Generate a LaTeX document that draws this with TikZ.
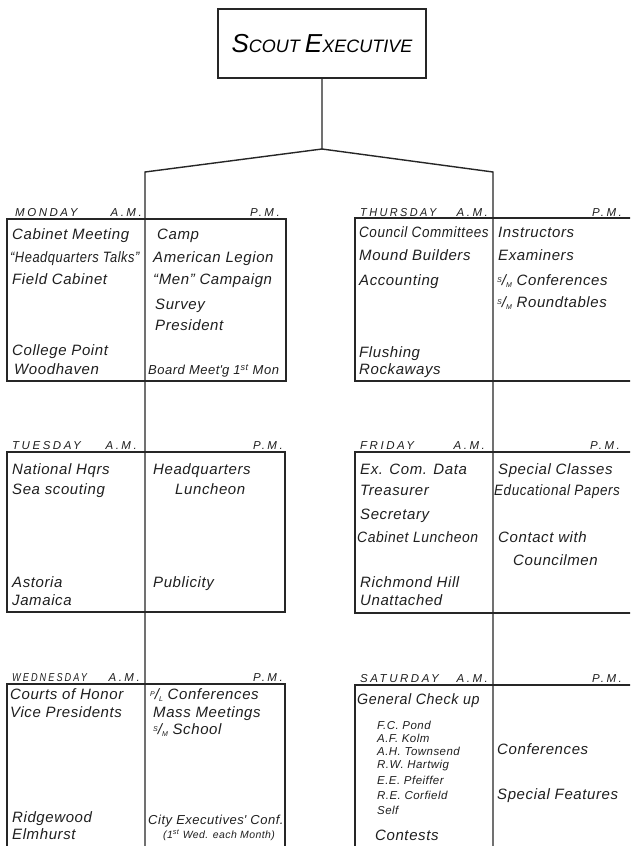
\documentclass[tikz,border=0pt]{standalone}
\usepackage{fontspec}
\setmainfont{Liberation Sans}
\newfontfamily\hand{Liberation Sans}[LetterSpace=4]
\newfontfamily\hdfont{Liberation Sans}[LetterSpace=22]
\newcommand{\slashab}[2]{\raisebox{0.35ex}{\scriptsize #1}/\raisebox{-0.2ex}{\scriptsize #2}}
\begin{document}
\begin{tikzpicture}[x=1pt,y=-1pt,
  ln/.style={line width=1.4pt, draw=black!85},
  box/.style={ln, rectangle, inner sep=0pt},
  it/.style={inner sep=0pt, anchor=mid west, text=black!88, font=\hand\itshape\fontsize{15}{18}\selectfont},
  sm/.style={it, font=\hand\itshape\fontsize{13}{15}\selectfont},
  tiny/.style={it, font=\hand\itshape\fontsize{11.5}{13}\selectfont},
  hdl/.style={inner sep=0pt, anchor=base west, text=black!88, font=\hdfont\itshape\fontsize{11.5}{13}\selectfont},
  hdr/.style={hdl, anchor=base east}
]
\useasboundingbox (0,0) rectangle (630,846);
\clip (0,0) rectangle (630,846);
\fill[white] (0,0) rectangle (630,846);

% title
\node[box, minimum width=208pt, minimum height=69pt, font=\itshape] (title) at (322,43.5)
  {{\fontsize{26}{28}\selectfont S}{\fontsize{18}{20}\selectfont COUT }{\fontsize{26}{28}\selectfont E}{\fontsize{18}{20}\selectfont XECUTIVE}};

% day boxes
\node[box, minimum width=279pt, minimum height=162pt] (mon) at (146.5,300) {};
\node[box, minimum width=278pt, minimum height=160pt] (tue) at (146,532) {};
\node[box, minimum width=278pt, minimum height=168pt] (wed) at (146,768) {};
\node[box, minimum width=285pt, minimum height=163pt] (thu) at (497.5,299.5) {};
\node[box, minimum width=285pt, minimum height=161pt] (fri) at (497.5,532.5) {};
\node[box, minimum width=285pt, minimum height=167pt] (sat) at (497.5,768.5) {};

% connectors
\coordinate (split) at (322,149);
\coordinate (lt) at (145,172);
\coordinate (rt) at (493,172);
\coordinate (lb) at (145,856);
\coordinate (rb) at (493,856);
\draw[ln] (title.south) -- (split) -- (lt) -- (lb);
\draw[ln] (split) -- (rt) -- (rb);

% headers
\node[hdl] (hmon) at (15,216) {MONDAY};
\node[hdr] (hmona) at (142,216) {A.M.};
\node[hdr] (hmonp) at (280,216) {P.M.};
\node[hdl] (hthu) at (360,216) {\scalebox{0.95}[1]{THURSDAY}};
\node[hdr] (hthua) at (488,216) {A.M.};
\node[hdr] (hthup) at (622,216) {P.M.};
\node[hdl] (htue) at (12,449) {TUESDAY};
\node[hdr] (htuea) at (137,449) {A.M.};
\node[hdr] (htuep) at (283,449) {P.M.};
\node[hdl] (hfri) at (360,449) {FRIDAY};
\node[hdr] (hfria) at (485,449) {A.M.};
\node[hdr] (hfrip) at (620,449) {P.M.};
\node[hdl] (hwed) at (12,681) {\scalebox{0.8}[1]{WEDNESDAY}};
\node[hdr] (hweda) at (140,681) {A.M.};
\node[hdr] (hwedp) at (283,681) {P.M.};
\node[hdl] (hsat) at (360,682) {SATURDAY};
\node[hdr] (hsata) at (488,682) {A.M.};
\node[hdr] (hsatp) at (622,682) {P.M.};

% Monday
\node[it] (m1) at (12,237) {Cabinet Meeting};
\node[it] (m2) at (10,260) {\scalebox{0.86}[1]{\textquotedblleft Headquarters Talks\textquotedblright}};
\node[it] (m3) at (12,282) {Field Cabinet};
\node[it] (m4) at (12,353) {College Point};
\node[it] (m5) at (14,372) {Woodhaven};
\node[it] (m6) at (157,237) {Camp};
\node[it] (m7) at (153,260) {American Legion};
\node[it] (m8) at (153,282) {\textquotedblleft Men\textquotedblright\ Campaign};
\node[it] (m9) at (155,307) {Survey};
\node[it] (m10) at (155,328) {President};
\node[sm] (m11) at (148,372) {Board Meet\textquotesingle g 1\textsuperscript{st} Mon};

% Thursday
\node[it] (t1) at (359,235) {\scalebox{0.9}[1]{Council Committees}};
\node[it] (t2) at (359,258) {Mound Builders};
\node[it] (t3) at (359,283) {Accounting};
\node[it] (t4) at (359,355) {Flushing};
\node[it] (t5) at (359,372) {Rockaways};
\node[it] (t6) at (498,235) {Instructors};
\node[it] (t7) at (498,258) {Examiners};
\node[it] (t8) at (497,283) {\slashab{S}{M} Conferences};
\node[it] (t9) at (497,305) {\slashab{S}{M} Roundtables};

% Tuesday
\node[it] (u1) at (12,472) {National Hqrs};
\node[it] (u2) at (12,492) {Sea scouting};
\node[it] (u3) at (12,585) {Astoria};
\node[it] (u4) at (12,603) {Jamaica};
\node[it] (u5) at (153,472) {Headquarters};
\node[it] (u6) at (175,492) {Luncheon};
\node[it] (u7) at (153,585) {Publicity};

% Friday
\node[it] (f1) at (360,472) {Ex. Com. Data};
\node[it] (f2) at (360,493) {Treasurer};
\node[it] (f3) at (360,517) {Secretary};
\node[it] (f4) at (357,540) {\scalebox{0.93}[1]{Cabinet Luncheon}};
\node[it] (f5) at (360,585) {Richmond Hill};
\node[it] (f6) at (360,603) {Unattached};
\node[it] (f7) at (498,472) {Special Classes};
\node[it] (f8) at (494,493) {\scalebox{0.9}[1]{Educational Papers}};
\node[it] (f9) at (498,540) {Contact with};
\node[it] (f10) at (513,563) {Councilmen};

% Wednesday
\node[it] (w1) at (10,697) {Courts of Honor};
\node[it] (w2) at (10,715) {Vice Presidents};
\node[it] (w3) at (12,820) {Ridgewood};
\node[it] (w4) at (12,837) {Elmhurst};
\node[it] (w5) at (150,697) {\slashab{P}{L} Conferences};
\node[it] (w6) at (153,715) {Mass Meetings};
\node[it] (w7) at (153,732) {\slashab{S}{M} School};
\node[sm] (w8) at (148,822) {City Executives\textquotesingle\ Conf.};
\node[tiny, font=\hand\itshape\fontsize{10.5}{12}\selectfont] (w9) at (163,836) {(1\textsuperscript{st} Wed. each Month)};

% Saturday
\node[it] (s1) at (357,702) {\scalebox{0.95}[1]{General Check up}};
\node[tiny] (s2) at (377,727) {F.C. Pond};
\node[tiny] (s3) at (377,740) {A.F. Kolm};
\node[tiny] (s4) at (377,753) {A.H. Townsend};
\node[tiny] (s5) at (377,766) {R.W. Hartwig};
\node[tiny] (s6) at (377,782) {E.E. Pfeiffer};
\node[tiny] (s7) at (377,797) {R.E. Corfield};
\node[tiny] (s8) at (377,812) {Self};
\node[it] (s9) at (375,838) {Contests};
\node[it] (s10) at (497,752) {Conferences};
\node[it] (s11) at (497,797) {Special Features};
\end{tikzpicture}
\end{document}
